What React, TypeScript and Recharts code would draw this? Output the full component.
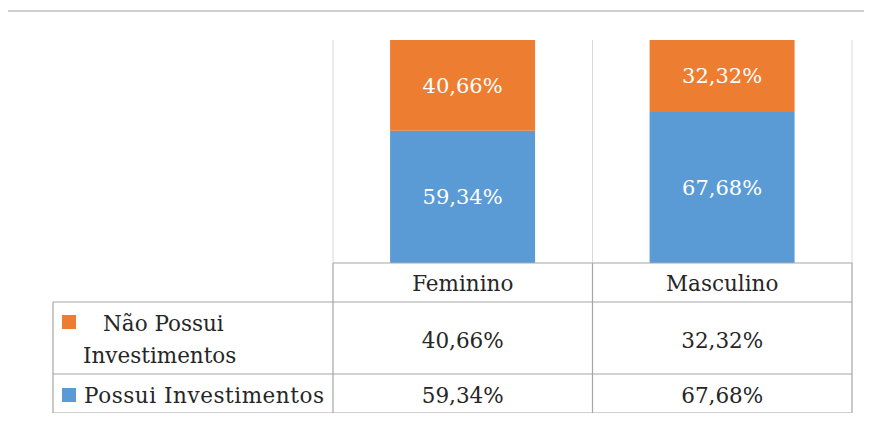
import { Bar, BarChart, LabelList, XAxis, YAxis } from "recharts";

const categories = ["Feminino", "Masculino"];
const possui = [59.34, 67.68];
const naoPossui = [40.66, 32.32];
const seriesNames = ["Não Possui Investimentos", "Possui Investimentos"];

const data = categories.map((cat, i) => ({
  cat,
  possui: possui[i],
  naoPossui: naoPossui[i],
}));

const W = 872;
const H = 421;
const axisH = 158;
const margin = { top: 40, right: 20, left: 333, bottom: 0 };
const plotBottom = H - axisH;
const band = (W - margin.left - margin.right) / categories.length;
const rows = [plotBottom, 302, 374, 413];
const tableLeft = 53;
const font = "'DejaVu Serif', Cambria, serif";
const lineColor = "#a6a6a6";
const gridColor = "#d9d9d9";
const frameColor = "#cfcfcf";
const ORANGE = "#ED7D31";
const BLUE = "#5B9BD5";

const fmt = (v: number) => v.toFixed(2).replace(".", ",") + "%";

function TableTick(props: any) {
  const { x, payload, index } = props;
  const i = payload.index ?? index;
  const left = x - band / 2;
  const right = x + band / 2;
  const last = i === categories.length - 1;
  return (
    <g fontFamily={font} fontSize={21.5} fill="#262626">
      <line x1={left} x2={left} y1={margin.top} y2={plotBottom} stroke={gridColor} />
      {last && <line x1={right} x2={right} y1={margin.top} y2={plotBottom} stroke={gridColor} />}
      {rows.map((r) => (
        <line key={r} x1={left} x2={right} y1={r} y2={r} stroke={lineColor} strokeWidth={1.2} />
      ))}
      <line x1={left} x2={left} y1={rows[0]} y2={rows[3]} stroke={lineColor} strokeWidth={1.2} />
      {last && <line x1={right} x2={right} y1={rows[0]} y2={rows[3]} stroke={lineColor} strokeWidth={1.2} />}
      <text x={x} y={291} textAnchor="middle">{payload.value}</text>
      <text x={x} y={348} textAnchor="middle">{fmt(naoPossui[i])}</text>
      <text x={x} y={403} textAnchor="middle">{fmt(possui[i])}</text>
      {i === 0 && (
        <g>
          {rows.slice(1).map((r) => (
            <line key={r} x1={tableLeft} x2={left} y1={r} y2={r} stroke={lineColor} strokeWidth={1.2} />
          ))}
          <line x1={tableLeft} x2={tableLeft} y1={rows[1]} y2={rows[3]} stroke={lineColor} strokeWidth={1.2} />
          <rect x={62} y={315} width={14} height={14} fill={ORANGE} />
          <text x={103} y={331}>Não Possui</text>
          <text x={83} y={363}>Investimentos</text>
          <rect x={62} y={388} width={14} height={14} fill={BLUE} />
          <text x={84} y={403} textLength={240}>{seriesNames[1]}</text>
          {/* outer chart frame */}
          <line x1={5} x2={W} y1={11} y2={11} stroke={frameColor} strokeWidth={2} />
          <line x1={5} x2={5} y1={11} y2={H} stroke={frameColor} strokeWidth={2} />
        </g>
      )}
    </g>
  );
}

export default function App() {
  return (
    <div style={{ width: W, height: H, margin: -8, background: "#fff" }}>
      <BarChart width={W} height={H} data={data} margin={margin} barCategoryGap="22%">
        <XAxis
          dataKey="cat"
          axisLine={false}
          tickLine={false}
          height={axisH}
          interval={0}
          tick={(p: any) => <TableTick {...p} />}
        />
        <YAxis hide domain={[0, 100]} />
        <Bar dataKey="possui" name={seriesNames[1]} stackId="a" fill={BLUE} isAnimationActive={false}>
          <LabelList
            dataKey="possui"
            position="center"
            formatter={(v: any) => fmt(Number(v))}
            fill="#fff"
            fontSize={21}
            fontFamily={font}
          />
        </Bar>
        <Bar dataKey="naoPossui" name={seriesNames[0]} stackId="a" fill={ORANGE} isAnimationActive={false}>
          <LabelList
            dataKey="naoPossui"
            position="center"
            formatter={(v: any) => fmt(Number(v))}
            fill="#fff"
            fontSize={21}
            fontFamily={font}
          />
        </Bar>
      </BarChart>
    </div>
  );
}
